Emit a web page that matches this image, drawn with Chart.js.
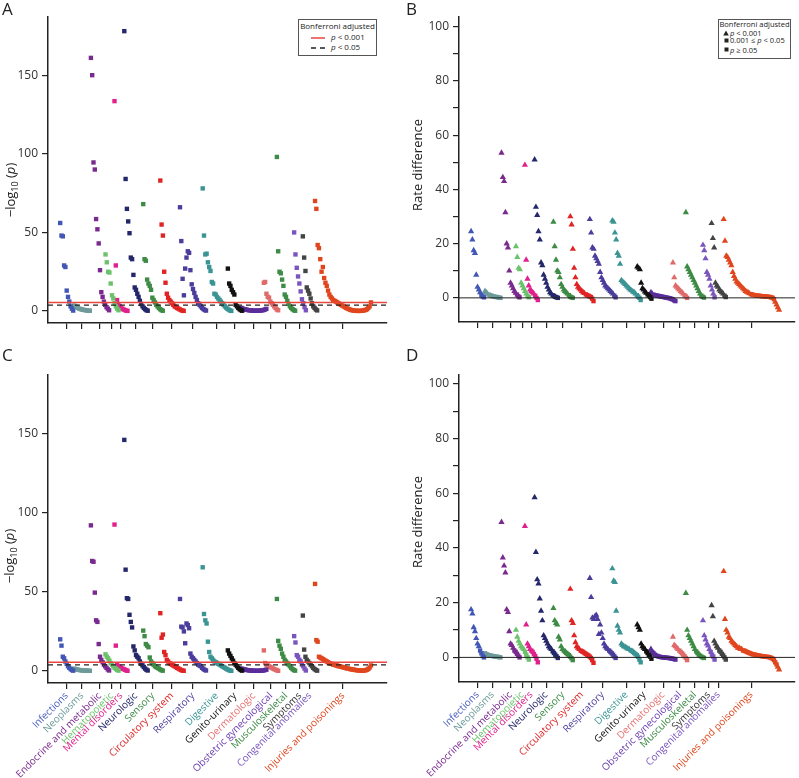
<!DOCTYPE html>
<html>
<head>
<meta charset="utf-8">
<script src="https://cdn.jsdelivr.net/npm/chart.js@4.4.3/dist/chart.umd.min.js"></script>
<style>
	body { margin: 0; background: #fff; width: 799px; height: 778px; position: relative; overflow: hidden; font-family: "Open Sans", sans-serif; color: #222; }
	.panel { position: absolute; }
	.letter { position: absolute; font-size: 17px; line-height: 1; color: #222; }
	.ytitle { position: absolute; transform: translate(-50%, -50%) rotate(-90deg); white-space: nowrap; font-size: 13px; color: #222; }
	.ytitle sub { font-size: 9px; }
	.legend { position: absolute; border: 1.5px solid #555; background: #fff; font-size: 8px; line-height: 10px; color: #222; box-sizing: border-box; }
	.legend div, .legend svg { position: absolute; white-space: nowrap; }
</style>
</head>
<body>

<canvas id="chartA" class="panel" width="400" height="345" style="left:0;top:0"></canvas>
<canvas id="chartB" class="panel" width="399" height="345" style="left:400px;top:0"></canvas>
<canvas id="chartC" class="panel" width="400" height="420" style="left:0;top:358px"></canvas>
<canvas id="chartD" class="panel" width="399" height="420" style="left:400px;top:358px"></canvas>

<div class="letter" style="left:2px;top:0">A</div>
<div class="letter" style="left:406px;top:0">B</div>
<div class="letter" style="left:2px;top:346px">C</div>
<div class="letter" style="left:406px;top:346px">D</div>

<div class="ytitle" style="left:11px;top:190px">−log<sub>10</sub> (<i>p</i>)</div>
<div class="ytitle" style="left:417px;top:165px">Rate difference</div>
<div class="ytitle" style="left:10px;top:556px">−log<sub>10</sub> (<i>p</i>)</div>
<div class="ytitle" style="left:417px;top:522px">Rate difference</div>

<div class="legend" style="left:298px;top:19px;width:79px;height:37px">
	<div style="left:0;right:0;top:1px;text-align:center">Bonferroni adjusted</div>
	<svg style="left:12px;top:16px" width="14" height="4"><line x1="0" y1="2" x2="14" y2="2" stroke="#e8473f" stroke-width="1.5"/></svg>
	<div style="left:32px;top:12px"><i>p</i> &lt; 0.001</div>
	<svg style="left:12px;top:26px" width="14" height="4"><line x1="0" y1="2" x2="14" y2="2" stroke="#222" stroke-width="1.3" stroke-dasharray="5,4"/></svg>
	<div style="left:32px;top:22px"><i>p</i> &lt; 0.05</div>
</div>

<div class="legend" style="left:718px;top:19px;width:73px;height:40px;font-size:7.5px">
	<div style="left:0;right:0;top:-1px;text-align:center">Bonferroni adjusted</div>
	<svg style="left:4px;top:10px" width="6" height="6"><polygon points="3,0.5 5.8,5.5 0.2,5.5" fill="#222"/></svg>
	<div style="left:11px;top:8px"><i>p</i> &lt; 0.001</div>
	<svg style="left:4.5px;top:17.5px" width="5" height="5"><rect x="0.5" y="0.5" width="4" height="4" fill="#222"/></svg>
	<div style="left:11px;top:15px">0.001 ≤ <i>p</i> &lt; 0.05</div>
	<svg style="left:4.5px;top:27px" width="5" height="5"><rect x="0.5" y="0.5" width="4" height="4" fill="#222"/></svg>
	<div style="left:11px;top:24.5px"><i>p</i> ≥ 0.05</div>
</div>

<script>
(function () {
	'use strict';

	// Categories, tick positions (axis units) and colours.
	var categories = ['Infections', 'Neoplasms', 'Endocrine and metabolic', 'Hematopoietic', 'Mental disorders',
		'Neurologic', 'Sensory', 'Circulatory system', 'Respiratory', 'Digestive', 'Genito-urinary',
		'Dermatologic', 'Obstetric gynecological', 'Musculoskeletal', 'Symptoms', 'Congenital anomalies',
		'Injuries and poisonings'];
	var catPos = [18.7, 34, 52, 64, 73, 88, 105, 124, 145, 169, 187, 206, 223, 238, 252, 262, 295];
	var labelColors = ['#4a5fc0', '#6e9a9a', '#7a2a8e', '#6cc26c', '#e0208c', '#25276b', '#3d8b45', '#e02424',
		'#4a3d9c', '#3b9494', '#111111', '#e87070', '#6a3cb0', '#3d8b45', '#333333', '#7b55bf', '#e0461e'];
	var clusterColors = ['#4257b5', '#6e9a9a', '#7a2a8e', '#6cc26c', '#e0208c', '#25276b', '#3d8b45', '#e02424',
		'#4a3d9c', '#3b9494', '#111111', '#5b2d9a', '#e06a6a', '#3d8b45', '#7b55bf', '#444444', '#e0461e'];

	// Panel A: -log10(p), one array per category.
	var logpA = [
		[56, 48, 47.5, 29, 28, 13, 9, 6, 3, 1.5, 0.3],
		[3.5, 3, 2.5, 2, 1.5, 1.2, 1, 0.8, 0.6, 0.5, 0.4, 0.3, 0.2],
		[161, 150, 94.5, 90, 58.5, 52, 43, 26, 12, 9, 6, 4, 2.5, 1.5, 0.5],
		[36, 31, 25, 24.5, 17.5, 10, 8, 5, 3, 1.5, 0.5],
		[133.5, 29, 7, 4, 3, 2, 1.5, 1, 0.6, 0.3, 0.1],
		[178, 84, 65, 57, 49.5, 34, 33, 23, 15, 13.5, 11, 9, 6.5, 4.5, 3, 2, 1.2, 0.6, 0.2],
		[68, 33, 32, 20, 17.5, 16, 13.5, 8.5, 7, 5.5, 4, 3, 2, 1.2, 0.6, 0.2],
		[83, 55, 48, 25, 18, 11, 8.5, 7, 6, 5, 4, 3, 2.5, 2, 1.5, 1, 0.6, 0.3, 0.1],
		[66, 44.5, 20.5, 10, 27, 34, 38, 37, 26, 17, 14, 11.5, 9, 7, 5, 4, 3, 2, 1.3, 0.7, 0.3],
		[78, 48, 36, 36.5, 31, 28, 25.5, 18.5, 17.5, 11, 10.5, 9, 8, 7, 6, 5, 4, 3, 2.2, 1.5, 0.9, 0.4, 0.1],
		[27, 17.5, 16, 13.5, 12, 10.5, 4, 3, 2, 1.2, 0.6, 0.2],
		[2, 1.5, 1.2, 1, 0.8, 0.6, 0.5, 0.4, 0.3, 0.3, 0.2, 0.2, 0.2, 0.3, 0.3, 0.4, 0.5, 0.7, 1, 1.4],
		[18, 18.5, 11, 9, 8.5, 6, 5, 4, 3, 2, 1, 0.5],
		[98, 38, 25, 24, 20, 16, 10.5, 9, 6.5, 4.5, 3, 2, 1.2, 0.6, 0.2],
		[50, 36, 27.5, 22, 17.5, 12.5, 7.5, 5, 2.5, 0.5],
		[47.5, 34, 25.5, 15, 13, 11, 8, 5, 3, 2, 1, 0.4],
		[70, 65, 42, 40, 33, 25, 28, 21, 18, 16, 13, 10.5, 9, 8, 7, 6.5, 6, 5.5, 5, 4.5, 4, 3.5, 3, 2.5, 2, 1.6,
			1.2, 0.9, 0.6, 0.4, 0.3, 0.2, 0.1, 0.1, 0.1, 0.1, 0.2, 0.3, 0.5, 0.8, 1.2, 2, 3, 5.5]
	];

	// Panel B: rate difference.
	var rateB = [
		[24.5, 21.5, 17.5, 16.5, 8.5, 4, 3, 2, 1, 0.5, 0.2],
		[2.5, 2, 1.5, 1.2, 1, 0.8, 0.6, 0.5, 0.4, 0.3, 0.2, 0.1, 0],
		[53.5, 44.5, 43, 31.5, 20, 18.5, 10, 5.5, 4.5, 3.5, 2.5, 1.8, 1.2, 0.6, 0.2],
		[19, 15, 11, 10.5, 5.5, 4.5, 3.5, 2.5, 1.5, 0.8, 0.2],
		[49, 14, 7, 4.5, 3, 2.5, 2, 1.5, 0.8, 0, -0.8],
		[51, 33.5, 30.5, 24.5, 21.5, 13, 12, 8.5, 7, 5.5, 4, 3, 2, 1.5, 1, 0.7, 0.4, 0.2, 0],
		[28, 19, 14, 10, 9.5, 7.5, 5, 4, 3, 2.5, 2, 1.5, 1, 0.5, 0.2, 0],
		[30, 27, 18, 11, 7.5, 5, 4, 3.5, 3, 2.5, 2, 1.7, 1.3, 1, 0.8, 0.5, 0.3, -0.3, -1.2],
		[29, 24, 18.5, 18, 15.5, 14.5, 13.5, 12.5, 9.5, 7.5, 6.5, 5.5, 4.5, 4, 3.5, 3, 2.5, 2, 1.5, 0.8, 0.2],
		[28.5, 28, 24, 21.5, 16.5, 15.5, 12.5, 6.5, 6, 5.5, 5, 4.5, 4, 3.5, 3, 2.7, 2.3, 2, 1.5, 1, 0.5, 0, -0.8],
		[11.5, 11, 10.5, 5.5, 3.5, 3, 2.3, 1.8, 1.3, 0.8, 0.3, -0.3],
		[2, 1.5, 1.2, 1, 0.9, 0.8, 0.7, 0.6, 0.5, 0.4, 0.3, 0.2, 0.1, 0, -0.1, -0.2, -0.4, -0.6, -0.9, -1.2],
		[13, 7.5, 4.5, 4, 3.5, 3, 2.5, 2, 1.5, 1, 0.5, 0],
		[31.5, 11.5, 10.5, 9.5, 8.5, 7.5, 6.5, 5.5, 4.5, 3.5, 2.5, 1.5, 0.8, 0.4, 0.1],
		[19.5, 17.5, 14.5, 9.5, 8.5, 7, 4.5, 3, 1.5, 0.2],
		[27.5, 22, 18.5, 5.5, 4.5, 4, 3, 2.5, 2, 1.5, 0.8, 0.3],
		[29, 21, 15.5, 15, 14, 13, 12, 9.5, 8, 7, 6, 5.5, 5, 4.5, 4, 3.5, 3, 2.5, 2.2, 1.9, 1.6, 1.4, 1.2, 1.1,
			1, 0.9, 0.8, 0.8, 0.7, 0.7, 0.6, 0.6, 0.5, 0.5, 0.4, 0.4, 0.3, 0.2, 0, -0.5, -1.5, -2.5, -3.5, -4.5]
	];

	// Panel C: -log10(p).
	var logpC = [
		[20, 16, 9, 8, 6, 4.5, 3, 2, 1.2, 0.6, 0.2],
		[1.5, 1.2, 1, 0.8, 0.6, 0.5, 0.4, 0.3, 0.3, 0.2, 0.2, 0.1, 0.1],
		[92, 69.5, 69, 49.5, 32, 31, 17, 9, 7, 5.5, 4, 3, 2, 1, 0.3],
		[10.5, 9, 8, 6.5, 5, 4, 3, 2, 1.3, 0.7, 0.2],
		[92.5, 16, 4, 3, 2.5, 2, 1.5, 1.2, 0.8, 0.4, 0.1],
		[146, 64, 46, 45.5, 35.5, 31, 27.5, 15.5, 13, 10, 9, 8, 6, 4.5, 3.5, 2.5, 1.5, 0.8, 0.3],
		[25.5, 22, 17, 16, 15, 8.5, 6, 5, 4, 3, 2.5, 2, 1.5, 1, 0.5, 0.2],
		[36.5, 21, 23, 12, 10, 7, 6, 5, 4.5, 4, 3.5, 3, 2.5, 2, 1.5, 1, 0.6, 0.3, 0.1],
		[45.5, 28, 27.5, 25, 17.5, 30, 29, 27, 11, 9, 8, 7, 6, 5, 4, 3.5, 3, 2, 1.3, 0.7, 0.3],
		[65.5, 36, 32, 30, 18.5, 12, 9, 8, 7, 6, 5.5, 5, 4.5, 4, 3.5, 3, 2.5, 2, 1.5, 1, 0.6, 0.3, 0.1],
		[13, 11, 9.5, 8, 6.5, 5, 4, 3, 2, 1.2, 0.6, 0.2],
		[1.5, 1.2, 1, 0.8, 0.6, 0.5, 0.4, 0.3, 0.2, 0.2, 0.1, 0.1, 0.1, 0.1, 0.2, 0.2, 0.3, 0.4, 0.6, 0.8],
		[13, 5, 4, 3.5, 3, 2.5, 2, 1.5, 1.2, 0.8, 0.4, 0.1],
		[45.5, 19, 16, 14, 11, 9, 7, 6, 5, 4, 3, 2, 1.2, 0.6, 0.2],
		[22, 18, 10, 9, 7, 6, 4, 3, 1.5, 0.3],
		[35, 13.5, 9, 7, 6, 5, 4, 3, 2, 1.2, 0.6, 0.2],
		[55, 19.5, 18.5, 9, 8.5, 8, 7.5, 7, 6.5, 6, 5.5, 5, 4.5, 4.5, 4, 4, 3.5, 3.5, 3, 3, 2.7, 2.5, 2.2, 2,
			1.8, 1.6, 1.4, 1.2, 1, 0.9, 0.8, 0.6, 0.5, 0.4, 0.3, 0.3, 0.2, 0.2, 0.3, 0.5, 0.8, 1.3, 2.2, 3.5]
	];

	// Panel D: rate difference.
	var rateD = [
		[17.5, 16, 11, 9.5, 7, 5, 4, 2.5, 1.5, 0.5, 0],
		[1.5, 1.2, 1, 0.8, 0.7, 0.6, 0.5, 0.4, 0.3, 0.2, 0.2, 0.1, 0],
		[49.5, 36.5, 33.5, 31, 17.5, 16.5, 9.5, 5, 4.5, 3.5, 2.5, 2, 1.3, 0.6, 0],
		[10, 7.5, 6, 5, 4, 3.5, 3, 2, 1, 0, -0.8],
		[48, 12, 5, 4, 3, 2.5, 2, 1.2, 0.5, -0.5, -1.8],
		[58.5, 38.5, 28.5, 27, 21.5, 17, 13.5, 8, 7, 6, 5, 4, 3.5, 3, 2.2, 1.6, 1, 0.4, -0.2],
		[18, 13.5, 12.5, 12, 7.5, 6.5, 4, 3, 2.5, 2, 1.6, 1.2, 0.8, 0.3, -0.3, -1],
		[25, 13.5, 12.5, 8, 5.5, 4, 3.5, 3, 2.5, 2.2, 2, 1.6, 1.3, 1, 0.7, 0.3, -0.2, -1, -2],
		[29, 22, 14.5, 14, 15, 15.5, 14, 8.5, 12, 9, 7, 5, 4, 3.5, 3, 2.5, 2, 1.5, 1, 0.4, -0.2],
		[32.5, 28, 27.5, 17, 11.5, 10, 9, 5, 4.5, 4, 3.8, 3.5, 3.2, 3, 2.7, 2.4, 2, 1.6, 1.2, 0.8, 0.2, -0.8, -1.8],
		[12, 11, 10, 5, 4, 3.5, 3, 2.2, 1.6, 0.9, 0.3, -0.5],
		[3, 2, 1.5, 1, 0.7, 0.5, 0.3, 0.2, 0.1, 0, 0, -0.1, -0.1, -0.2, -0.2, -0.3, -0.4, -0.5, -0.6, -0.8],
		[7.5, 4.5, 4, 3.5, 3, 2.5, 2, 1.5, 1, 0.4, -0.2, -1],
		[23.5, 10, 8, 7, 6, 5, 4, 3, 2.2, 1.6, 1, 0.6, 0.3, 0, -0.2],
		[13.5, 8, 6.5, 5, 4.3, 3, 2, 1, 0.3, -0.8],
		[19, 15, 6, 5, 4, 3.5, 2.5, 2, 1.3, 0.7, 0, -0.8],
		[31.5, 14, 10, 9, 7.5, 7, 6, 5.5, 5, 4.5, 4, 3.5, 3.5, 3, 3, 2.5, 2.5, 2.2, 2, 1.8, 1.6, 1.4, 1.2, 1.1,
			1, 0.9, 0.8, 0.7, 0.6, 0.5, 0.4, 0.4, 0.3, 0.2, 0.2, 0.1, 0, -0.2, -0.5, -1, -1.8, -2.6, -3.5, -4.5]
	];

	var logpTicks = [0, 50, 100, 150];
	var rateTicks = [0, 10, 20, 30, 40, 50, 60, 70, 80, 90, 100];
	var thresholdStrict = 5.5;   // Bonferroni p < 0.001
	var thresholdLoose = 3.8;    // Bonferroni p < 0.05

	var X_MAX = 339;
	var STEP = 1.3;
	var FONT = 'Open Sans';

	function refLine(y, color, width, dash) {
		return {
			type: 'line',
			data: [{ x: 0, y: y }, { x: X_MAX, y: y }],
			borderColor: color,
			borderWidth: width,
			borderDash: dash || [],
			pointRadius: 0,
			showLine: true,
			order: 0
		};
	}

	function makePanel(id, values, cfg) {
		var datasets = [];
		values.forEach(function (vals, c) {
			var start = catPos[c] - (vals.length - 1) * STEP / 2;
			datasets.push({
				data: vals.map(function (v, i) { return { x: start + i * STEP, y: v }; }),
				backgroundColor: clusterColors[c],
				borderWidth: 0,
				pointStyle: function (ctx) {
					if (!cfg.triCut) return 'rect';
					var v = ctx.raw ? ctx.raw.y : 0;
					return Math.abs(v) >= cfg.triCut ? 'triangle' : 'rect';
				},
				pointRadius: function (ctx) {
					if (!cfg.triCut) return 3.1;
					var v = ctx.raw ? ctx.raw.y : 0;
					return Math.abs(v) >= cfg.triCut ? 3.6 : 3.1;
				},
				order: 1
			});
		});
		cfg.lines.forEach(function (l) { datasets.push(l); });

		new Chart(document.getElementById(id), {
			type: 'scatter',
			data: { datasets: datasets },
			options: {
				responsive: false,
				animation: false,
				layout: { padding: { top: 17, right: cfg.padRight, left: 0, bottom: 0 } },
				plugins: { legend: { display: false }, tooltip: { enabled: false } },
				scales: {
					x: {
						type: 'linear',
						min: 0,
						max: X_MAX,
						afterBuildTicks: function (s) {
							s.ticks = catPos.map(function (p) { return { value: p }; });
						},
						afterFit: function (s) { s.height = cfg.xHeight; },
						grid: { drawOnChartArea: false, drawTicks: true, tickLength: 6, color: '#222', lineWidth: 1.2 },
						border: { display: true, color: '#222', width: 1.5 },
						ticks: {
							autoSkip: false,
							minRotation: 45,
							maxRotation: 45,
							padding: 1,
							font: { family: FONT, size: 10 },
							color: function (ctx) { return labelColors[ctx.index]; },
							callback: function (v, i) { return cfg.showLabels ? categories[i] : ''; }
						}
					},
					y: {
						min: cfg.yMin,
						max: cfg.yMax,
						afterBuildTicks: function (s) {
							s.ticks = cfg.yTicks.map(function (t) { return { value: t }; });
						},
						afterFit: function (s) { s.width = cfg.yWidth; },
						grid: { drawOnChartArea: false, drawTicks: true, tickLength: 6, color: '#222', lineWidth: 1.2 },
						border: { display: true, color: '#222', width: 1.5 },
						ticks: {
							autoSkip: false,
							padding: 4,
							font: { family: FONT, size: 12 },
							color: '#333',
							callback: function (v) { return v % cfg.labelEvery === 0 ? String(v) : ''; }
						}
					}
				}
			}
		});
	}

	makePanel('chartA', logpA, {
		padRight: 13, xHeight: 22, yWidth: 48, yMin: -7.6, yMax: 187,
		yTicks: logpTicks, labelEvery: 50, showLabels: false,
		lines: [refLine(thresholdStrict, '#e8473f', 1.5), refLine(thresholdLoose, '#222', 1.3, [5, 4])]
	});
	makePanel('chartB', rateB, {
		padRight: 2, xHeight: 23, yWidth: 59, yMin: -8.9, yMax: 103.6,
		yTicks: rateTicks, labelEvery: 20, showLabels: false, lines: [refLine(0, '#222', 1)], triCut: 1.5
	});
	makePanel('chartC', logpC, {
		padRight: 13, xHeight: 95, yWidth: 48, yMin: -7.6, yMax: 187,
		yTicks: logpTicks, labelEvery: 50, showLabels: true,
		lines: [refLine(thresholdStrict, '#e8473f', 1.5), refLine(thresholdLoose, '#222', 1.3, [5, 4])]
	});
	makePanel('chartD', rateD, {
		padRight: 2, xHeight: 96, yWidth: 59, yMin: -9, yMax: 103.3,
		yTicks: rateTicks, labelEvery: 20, showLabels: true, lines: [refLine(0, '#222', 1)], triCut: 3
	});
})();
</script>
</body>
</html>
